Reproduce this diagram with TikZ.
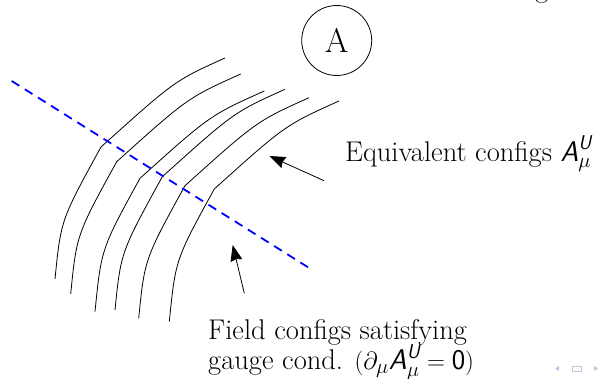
\documentclass[tikz,border=0pt]{standalone}
\usepackage{amsmath}
\usepackage{fontspec}
\usetikzlibrary{arrows.meta}
\definecolor{navcol}{RGB}{195,195,228}
\newcommand\sfit[1]{\text{\sffamily\itshape #1}}
\begin{document}
\begin{tikzpicture}[x=1pt,y=-1pt,
  orbit/.style={line width=0.8pt, black},
  gauge/.style={blue, line width=1.8pt, dash pattern=on 9pt off 6.5pt},
  pointer/.style={line width=0.8pt, -{Stealth[length=16pt,width=12pt,inset=1.5pt]}},
  lbl/.style={font=\fontsize{28.5}{34}\selectfont, inner sep=0pt, anchor=base west},
  nav/.style={navcol},
]
\useasboundingbox (0,0) rectangle (598,379);

% gauge orbits
\draw[orbit] (225,58) .. controls (174.8,80.6) .. (101,147) .. controls (60.9,219.9) .. (55,279);
\draw[orbit] (240.7,74) .. controls (187.6,97.9) .. (116.7,161.7) .. controls (76.6,234.6) .. (70.7,294);
\draw[orbit] (264.3,91) .. controls (209.8,115.5) .. (140,178.3) .. controls (101.3,248.7) .. (95,311.7);
\draw[orbit] (285,89.3) .. controls (233.9,112.3) .. (162.3,176.7) .. controls (120.8,252.2) .. (115,310);
\draw[orbit] (309,97.7) .. controls (256.6,121.3) .. (185,185.7) .. controls (144.6,259.1) .. (138.7,318.3);
\draw[orbit] (339,101) .. controls (285.2,125.2) .. (214.3,189) .. controls (175.5,259.5) .. (169.3,321.7);

% gauge condition surface
\coordinate (gs) at (11.7,81);
\coordinate (ge) at (308.7,267.7);
\draw[gauge] (gs) -- (ge);

% circle A
\node[draw, circle, line width=0.8pt, minimum size=70pt, inner sep=0pt,
      font=\fontsize{34}{40}\selectfont] (A) at (336.7,40.5) {A};

% labels
\node[lbl] (eq) at (345,161.7) {Equivalent configs $\sfit{A}^{\sfit{U}}_{\mu}$};
\node[lbl] (fc1) at (208,340) {Field configs satisfying};
\node[lbl] (fc2) at (208,370) {gauge cond. $(\partial_\mu \sfit{A}^{\sfit{U}}_{\mu} = \text{\sffamily 0})$};
\node[lbl] (topg) at (535,-2.6) {g};

% pointers
\coordinate (eqT) at (324,180.7);
\coordinate (eqH) at (269.3,156);
\draw[pointer] (eqT) -- (eqH);
\coordinate (fcT) at (244.3,293.3);
\coordinate (fcH) at (232.7,245);
\draw[pointer] (fcT) -- (fcH);

% navigation symbols
\fill[nav] (555,368.5) -- (559,366) -- (559,371) -- cycle;
\draw[nav, line width=0.8pt] (572,366) rectangle (581,371);
\fill[nav] (594,366) -- (594,371) -- (598,368.5) -- cycle;
\end{tikzpicture}
\end{document}
